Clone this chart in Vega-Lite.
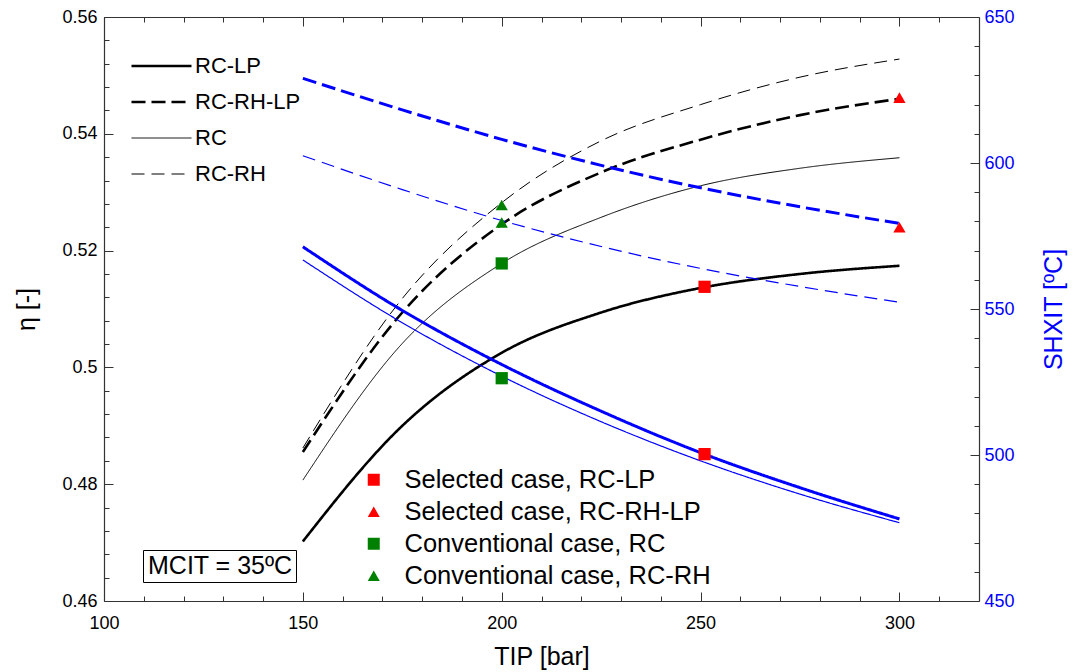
{
  "$schema": "https://vega.github.io/schema/vega-lite/v6.json",
  "width": 875,
  "height": 584,
  "autosize": "none",
  "padding": {"left": 104, "top": 17, "right": 95, "bottom": 71},
  "background": "white",
  "config": {
    "font": "Liberation Sans",
    "view": {"stroke": null},
    "axis": {
      "grid": false,
      "domainColor": "#333333",
      "domainWidth": 1.2,
      "tickColor": "#333333",
      "tickWidth": 1,
      "labelFont": "Liberation Sans",
      "labelFontSize": 18,
      "labelColor": "black",
      "titleFont": "Liberation Sans",
      "titleFontSize": 25,
      "titleFontWeight": "normal",
      "titleColor": "black",
      "labelOverlap": false,
      "labelFlush": false
    },
    "legend": {
      "labelFont": "Liberation Sans",
      "labelColor": "black",
      "labelLimit": 0
    }
  },
  "datasets": {
    "eta": [
      {"series": "RC-LP", "TIP": 150, "eta": 0.4702},
      {"series": "RC-LP", "TIP": 175, "eta": 0.4900},
      {"series": "RC-LP", "TIP": 200, "eta": 0.5025},
      {"series": "RC-LP", "TIP": 225, "eta": 0.5094},
      {"series": "RC-LP", "TIP": 250, "eta": 0.5136},
      {"series": "RC-LP", "TIP": 275, "eta": 0.5160},
      {"series": "RC-LP", "TIP": 300, "eta": 0.5174},
      {"series": "RC-RH-LP", "TIP": 150, "eta": 0.4855},
      {"series": "RC-RH-LP", "TIP": 175, "eta": 0.5094},
      {"series": "RC-RH-LP", "TIP": 200, "eta": 0.5245},
      {"series": "RC-RH-LP", "TIP": 225, "eta": 0.5334},
      {"series": "RC-RH-LP", "TIP": 250, "eta": 0.5390},
      {"series": "RC-RH-LP", "TIP": 275, "eta": 0.5432},
      {"series": "RC-RH-LP", "TIP": 300, "eta": 0.5460},
      {"series": "RC", "TIP": 150, "eta": 0.4807},
      {"series": "RC", "TIP": 175, "eta": 0.5041},
      {"series": "RC", "TIP": 200, "eta": 0.5178},
      {"series": "RC", "TIP": 225, "eta": 0.5257},
      {"series": "RC", "TIP": 250, "eta": 0.5311},
      {"series": "RC", "TIP": 275, "eta": 0.5341},
      {"series": "RC", "TIP": 300, "eta": 0.5359},
      {"series": "RC-RH", "TIP": 150, "eta": 0.4862},
      {"series": "RC-RH", "TIP": 175, "eta": 0.5118},
      {"series": "RC-RH", "TIP": 200, "eta": 0.5282},
      {"series": "RC-RH", "TIP": 225, "eta": 0.5388},
      {"series": "RC-RH", "TIP": 250, "eta": 0.5450},
      {"series": "RC-RH", "TIP": 275, "eta": 0.5497},
      {"series": "RC-RH", "TIP": 300, "eta": 0.5528}
    ],
    "shxit": [
      {"series": "RC-LP", "TIP": 150, "T": 571.3},
      {"series": "RC-LP", "TIP": 175, "T": 549.5},
      {"series": "RC-LP", "TIP": 200, "T": 531.0},
      {"series": "RC-LP", "TIP": 225, "T": 515.0},
      {"series": "RC-LP", "TIP": 250, "T": 500.8},
      {"series": "RC-LP", "TIP": 275, "T": 488.8},
      {"series": "RC-LP", "TIP": 300, "T": 478.1},
      {"series": "RC-RH-LP", "TIP": 150, "T": 629.0},
      {"series": "RC-RH-LP", "TIP": 175, "T": 618.2},
      {"series": "RC-RH-LP", "TIP": 200, "T": 608.1},
      {"series": "RC-RH-LP", "TIP": 225, "T": 599.2},
      {"series": "RC-RH-LP", "TIP": 250, "T": 591.5},
      {"series": "RC-RH-LP", "TIP": 275, "T": 585.0},
      {"series": "RC-RH-LP", "TIP": 300, "T": 579.3},
      {"series": "RC", "TIP": 150, "T": 566.8},
      {"series": "RC", "TIP": 175, "T": 545.3},
      {"series": "RC", "TIP": 200, "T": 527.0},
      {"series": "RC", "TIP": 225, "T": 511.4},
      {"series": "RC", "TIP": 250, "T": 498.0},
      {"series": "RC", "TIP": 275, "T": 486.6},
      {"series": "RC", "TIP": 300, "T": 476.8},
      {"series": "RC-RH", "TIP": 150, "T": 602.5},
      {"series": "RC-RH", "TIP": 175, "T": 590.9},
      {"series": "RC-RH", "TIP": 200, "T": 580.3},
      {"series": "RC-RH", "TIP": 225, "T": 571.4},
      {"series": "RC-RH", "TIP": 250, "T": 563.9},
      {"series": "RC-RH", "TIP": 275, "T": 557.7},
      {"series": "RC-RH", "TIP": 300, "T": 552.3}
    ],
    "etaPts": [
      {"marker": "Selected case, RC-LP", "TIP": 251, "eta": 0.5138},
      {"marker": "Selected case, RC-RH-LP", "TIP": 300, "eta": 0.5462},
      {"marker": "Conventional case, RC", "TIP": 200, "eta": 0.5178},
      {"marker": "Conventional case, RC-RH", "TIP": 200, "eta": 0.5278}
    ],
    "shxitPts": [
      {"marker": "Selected case, RC-LP", "TIP": 251, "T": 500.3},
      {"marker": "Selected case, RC-RH-LP", "TIP": 300, "T": 578.0},
      {"marker": "Conventional case, RC", "TIP": 200, "T": 526.3},
      {"marker": "Conventional case, RC-RH", "TIP": 200, "T": 579.6}
    ],
    "note": [
      {"note": "MCIT = 35ºC"}
    ]
  },
  "layer": [
    {
      "encoding": {
        "x": {
          "field": "TIP", "type": "quantitative",
          "scale": {"domain": [100, 320], "nice": false, "zero": false},
          "axis": {
            "orient": "bottom",
            "values": [100,110,120,130,140,150,160,170,180,190,200,210,220,230,240,250,260,270,280,290,300,310],
            "labelExpr": "datum.value % 50 === 0 ? datum.label : ''",
            "tickSize": {"condition": {"test": "datum.value % 50 === 0", "value": -9}, "value": -5},
            "labelPadding": 22,
            "title": "TIP [bar]",
            "titlePadding": 8
          }
        },
        "y": {
          "field": "eta", "type": "quantitative",
          "scale": {"domain": [0.46, 0.56], "nice": false, "zero": false},
          "axis": {
            "orient": "left",
            "values": [0.46,0.464,0.468,0.472,0.476,0.48,0.484,0.488,0.492,0.496,0.5,0.504,0.508,0.512,0.516,0.52,0.524,0.528,0.532,0.536,0.54,0.544,0.548,0.552,0.556,0.56],
            "labelExpr": "abs(datum.value*50 - round(datum.value*50)) < 0.001 ? '' + round(datum.value*100)/100 : ''",
            "tickSize": {"condition": {"test": "abs(datum.value*50 - round(datum.value*50)) < 0.001", "value": -9}, "value": -5},
            "labelPadding": 16,
            "title": "η [-]",
            "titlePadding": 22
          }
        }
      },
      "layer": [
        {
          "data": {"name": "eta"},
          "mark": {"type": "line", "color": "black", "interpolate": "monotone"},
          "encoding": {
            "strokeDash": {
              "field": "series", "type": "nominal",
              "scale": {"domain": ["RC-LP", "RC-RH-LP", "RC", "RC-RH"], "range": [[1, 0], [14, 6], [1, 0], [13, 7]]},
              "legend": {
                "title": null, "orient": "none", "legendX": 27, "legendY": 38,
                "symbolType": "stroke", "symbolSize": 3600, "symbolStrokeColor": "black",
                "labelFontSize": 22, "labelOffset": 3, "clipHeight": 22, "rowPadding": 14, "padding": 0,
                "encode": {"symbols": {"update": {"stroke": {"value": "black"}, "strokeWidth": {"signal": "(datum.value === 'RC-LP' || datum.value === 'RC-RH-LP' ? 2.6 : 1)"}}}}
              }
            },
            "strokeWidth": {
              "condition": {"test": "datum.series === 'RC-LP' || datum.series === 'RC-RH-LP'", "value": 2.6},
              "value": 1
            }
          }
        },
        {
          "data": {"name": "etaPts"},
          "mark": {"type": "point", "filled": true, "opacity": 1, "size": 150},
          "encoding": {
            "color": {
              "field": "marker", "type": "nominal",
              "scale": {"domain": ["Selected case, RC-LP", "Selected case, RC-RH-LP", "Conventional case, RC", "Conventional case, RC-RH"], "range": ["#ff0000", "#ff0000", "#008000", "#008000"]},
              "legend": {"title": null, "orient": "none", "legendX": 257, "legendY": 450, "symbolSize": 144, "labelFontSize": 25.5, "labelOffset": 18, "rowPadding": 5, "padding": 0, "symbolStrokeWidth": 0}
            },
            "shape": {
              "field": "marker", "type": "nominal",
              "scale": {"domain": ["Selected case, RC-LP", "Selected case, RC-RH-LP", "Conventional case, RC", "Conventional case, RC-RH"], "range": ["square", "triangle-up", "square", "triangle-up"]},
              "legend": {"title": null, "orient": "none", "legendX": 257, "legendY": 450, "symbolSize": 144, "labelFontSize": 25.5, "labelOffset": 18, "rowPadding": 5, "padding": 0, "symbolStrokeWidth": 0}
            }
          }
        }
      ]
    },
    {
      "encoding": {
        "x": {
          "field": "TIP", "type": "quantitative",
          "scale": {"domain": [100, 320], "nice": false, "zero": false},
          "axis": {
            "orient": "top",
            "values": [100,110,120,130,140,150,160,170,180,190,200,210,220,230,240,250,260,270,280,290,300,310],
            "labels": false,
            "tickSize": {"condition": {"test": "datum.value % 50 === 0", "value": -9}, "value": -5},
            "title": null
          }
        },
        "y": {
          "field": "T", "type": "quantitative",
          "scale": {"domain": [450, 650], "nice": false, "zero": false},
          "axis": {
            "orient": "right",
            "values": [450,460,470,480,490,500,510,520,530,540,550,560,570,580,590,600,610,620,630,640,650],
            "labelExpr": "datum.value % 50 === 0 ? datum.label : ''",
            "tickSize": {"condition": {"test": "datum.value % 50 === 0", "value": -9}, "value": -5},
            "labelPadding": 14,
            "labelColor": "#0000ff",
            "title": "SHXIT [ºC]",
            "titleColor": "#0000ff",
            "titleAngle": -90,
            "titleBaseline": "top",
            "titlePadding": 27
          }
        }
      },
      "layer": [
        {
          "data": {"name": "shxit"},
          "mark": {"type": "line", "color": "#0000ff", "interpolate": "monotone"},
          "encoding": {
            "strokeDash": {
              "field": "series", "type": "nominal",
              "scale": {"domain": ["RC-LP", "RC-RH-LP", "RC", "RC-RH"], "range": [[1, 0], [14, 6], [1, 0], [13, 7]]},
              "legend": {
                "title": null, "orient": "none", "legendX": 27, "legendY": 38,
                "symbolType": "stroke", "symbolSize": 3600, "symbolStrokeColor": "black",
                "labelFontSize": 22, "labelOffset": 3, "clipHeight": 22, "rowPadding": 14, "padding": 0,
                "encode": {"symbols": {"update": {"stroke": {"value": "black"}, "strokeWidth": {"signal": "(datum.value === 'RC-LP' || datum.value === 'RC-RH-LP' ? 2.6 : 1)"}}}}
              }
            },
            "strokeWidth": {
              "condition": {"test": "datum.series === 'RC-LP' || datum.series === 'RC-RH-LP'", "value": 3},
              "value": 1.2
            }
          }
        },
        {
          "data": {"name": "shxitPts"},
          "mark": {"type": "point", "filled": true, "opacity": 1, "size": 150},
          "encoding": {
            "color": {
              "field": "marker", "type": "nominal",
              "scale": {"domain": ["Selected case, RC-LP", "Selected case, RC-RH-LP", "Conventional case, RC", "Conventional case, RC-RH"], "range": ["#ff0000", "#ff0000", "#008000", "#008000"]},
              "legend": {"title": null, "orient": "none", "legendX": 257, "legendY": 450, "symbolSize": 144, "labelFontSize": 25.5, "labelOffset": 18, "rowPadding": 5, "padding": 0, "symbolStrokeWidth": 0}
            },
            "shape": {
              "field": "marker", "type": "nominal",
              "scale": {"domain": ["Selected case, RC-LP", "Selected case, RC-RH-LP", "Conventional case, RC", "Conventional case, RC-RH"], "range": ["square", "triangle-up", "square", "triangle-up"]},
              "legend": {"title": null, "orient": "none", "legendX": 257, "legendY": 450, "symbolSize": 144, "labelFontSize": 25.5, "labelOffset": 18, "rowPadding": 5, "padding": 0, "symbolStrokeWidth": 0}
            }
          }
        }
      ]
    },
    {
      "data": {"name": "note"},
      "mark": {"type": "point", "opacity": 0},
      "encoding": {
        "fill": {
          "field": "note", "type": "nominal",
          "scale": {"range": ["#ffffff"]},
          "legend": {"title": null, "orient": "none", "legendX": 39, "legendY": 533, "symbolSize": 1, "symbolStrokeWidth": 0, "symbolOpacity": 0, "labelFontSize": 25, "labelOffset": -23, "padding": 3, "strokeColor": "black"}
        }
      }
    }
  ],
  "resolve": {"scale": {"y": "independent"}, "axis": {"x": "independent"}}
}
